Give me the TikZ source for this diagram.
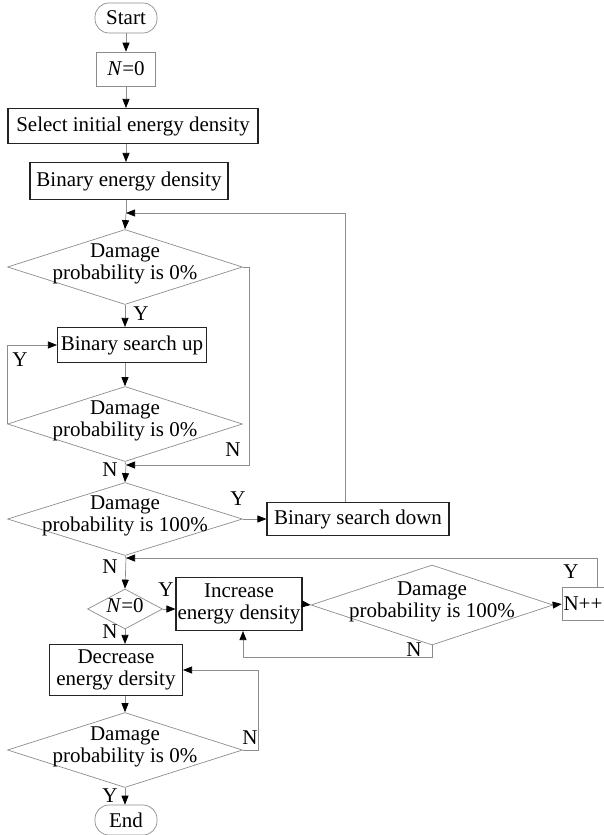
\documentclass[tikz,border=0pt]{standalone}
\usepackage{fontspec}
\setmainfont{Liberation Serif}
\usepackage{tikz}
\usetikzlibrary{shapes.geometric, arrows.meta, positioning, calc}
\definecolor{linegray}{RGB}{140,140,140}
\definecolor{boxdark}{RGB}{35,35,35}
\tikzset{
  flowfont/.style={font=\fontsize{21}{22}\selectfont},
  term/.style={rectangle, draw=linegray, rounded corners=14pt, flowfont,
    minimum width=62, minimum height=30, inner sep=0pt, line width=0.7pt},
  thinbox/.style={rectangle, draw=linegray, flowfont,
    minimum height=33, inner sep=0pt, line width=0.7pt},
  procbox/.style={rectangle, draw=boxdark, flowfont, align=center,
    minimum height=35, inner sep=0pt, line width=1.1pt},
  decision/.style={diamond, draw=linegray, inner sep=0pt, line width=0.7pt,
    minimum width=235, minimum height=75,
    label={[flowfont, align=center, inner sep=0pt, yshift=3pt]center:#1}},
  lbl/.style={flowfont, inner sep=0pt},
  arrow/.style={-{Triangle[length=9pt, width=7pt, color=black]}, draw=linegray, line width=0.7pt},
  line/.style={draw=linegray, line width=0.7pt}
}
\begin{document}
\begin{tikzpicture}[x=1pt, y=-1pt]
  \useasboundingbox (0,0) rectangle (603,835);
  % main column
  \node[term] (start) at (126,18) {Start};
  \node[thinbox, minimum width=59, minimum height=34] (nzero) at (126,69) {\textit{N}=0};
  \node[procbox, minimum width=250] (select) at (133,126) {Select initial energy density};
  \node[procbox, minimum width=198, minimum height=37] (binary) at (129,181) {Binary energy density};
  \node[decision={Damage\\probability is 0\%}] (dec1) at (125,267) {};
  \node[procbox, minimum width=149] (up) at (132,345) {Binary search up};
  \node[decision={Damage\\probability is 0\%}] (dec2) at (125,424) {};
  \node[decision={Damage\\probability is 100\%}, minimum height=73] (dec3) at (125,519) {};
  \node[procbox, minimum width=182, minimum height=33] (down) at (358,519) {Binary search down};
  \node[decision={\textit{N}=0}, minimum width=75, minimum height=40] (isz) at (125,609) {};
  \node[procbox, minimum width=126, minimum height=53] (inc) at (239,604) {Increase\\energy density};
  \node[decision={Damage\\probability is 100\%}, minimum width=242, minimum height=80] (dec4) at (432,605) {};
  \node[thinbox, minimum width=42] (npp) at (583,604) {N++};
  \node[procbox, minimum width=133, minimum height=51] (decr) at (116,670) {Decrease\\energy dersity};
  \node[decision={Damage\\probability is 0\%}] (dec5) at (125,750) {};
  \node[term] (end) at (126,820) {End};

  % merge points
  \coordinate (m1) at (126,213);
  \coordinate (m2) at (126,465);
  \coordinate (m3) at (126,558);

  % connectors
  \draw[arrow] (start) -- (nzero);
  \draw[arrow] (nzero.south) -- (select.north -| nzero.south);
  \draw[arrow] (select.south -| nzero.south) -- (binary.north -| nzero.south);
  \draw[line] (binary.south -| m1) -- (m1);
  \draw[arrow] (m1) -- (dec1.north);
  \draw[arrow] ([xshift=-13pt]down.north) |- (m1);
  \draw[arrow] (dec1.south) -- (up.north -| dec1.south);
  \draw[arrow] (dec1.east) -- ++(6,0) |- (m2);
  \draw[arrow] (up.south -| dec2.north) -- (dec2.north);
  \draw[arrow] (dec2.west) |- (up.west);
  \draw[line] (dec2.south) -- (m2);
  \draw[arrow] (m2) -- (dec3.north);
  \draw[arrow] (dec3.east) -- (down.west);
  \draw[line] (dec3.south) -- (m3);
  \draw[arrow] (m3) -- (isz.north);
  \draw[arrow] ([xshift=14pt]npp.north) |- (m3);
  \draw[arrow] (isz.east) -- (inc.west |- isz.east);
  \draw[arrow] (inc.east) -- (dec4.west);
  \draw[arrow] (dec4.east) -- (npp.west);
  \draw[arrow] (dec4.south) -- ++(0,12) -| ([xshift=4pt]inc.south);
  \draw[arrow] (isz.south) -- (decr.north -| isz.south);
  \draw[arrow] (decr.south -| dec5.north) -- (dec5.north);
  \draw[arrow] (dec5.east) -- ++(15,0) |- (decr.east);
  \draw[arrow] (dec5.south) -- (end.north -| dec5.south);

  % branch labels
  \node[lbl] (y1) at (141,314) {Y};
  \node[lbl] (n1) at (233,450) {N};
  \node[lbl] (y2) at (20,360) {Y};
  \node[lbl] (n2) at (110,470) {N};
  \node[lbl] (y3) at (238,499) {Y};
  \node[lbl] (n3) at (110,567) {N};
  \node[lbl] (y4) at (571,572) {Y};
  \node[lbl] (y5) at (166,590) {Y};
  \node[lbl] (n4) at (414,650) {N};
  \node[lbl] (n5) at (110,632) {N};
  \node[lbl] (n6) at (250,738) {N};
  \node[lbl] (y6) at (110,796) {Y};
\end{tikzpicture}
\end{document}
